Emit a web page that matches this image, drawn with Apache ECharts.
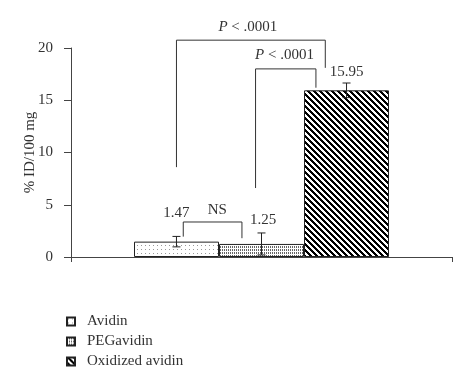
<!DOCTYPE html>
<html>
<head>
<meta charset="utf-8">
<script src="https://cdn.jsdelivr.net/npm/echarts@6/dist/echarts.min.js"></script>
<style>
  html, body { margin: 0; padding: 0; background: #fff; }
  #chart { width: 467px; height: 375px; }
</style>
</head>
<body>
<div id="chart"></div>
<script>
// data
const groups = ['Avidin', 'PEGavidin', 'Oxidized avidin']
const means = [1.47, 1.25, 15.95]
const errors = [0.5, 1.05, 0.7]
const yTicks = [0, 5, 10, 15, 20]
// bar slot positions on the hidden helper axis (one unit = one bar width)
const slots = [-1, 0, 1]
// brackets: [xLeft, xRight, yTop, yLeftEnd, yRightEnd]
const brackets = [
  [-1, 0.75, 20.75, 8.6, 18.1],
  [-0.07, 0.64, 18.0, 6.6, 16.2],
  [-0.92, -0.23, 3.35, 1.95, 1.8]
]
// annotation texts and where they sit
const noteTexts = ['1.47', '1.25', '15.95', 'NS', '{i|P} < .0001', '{i|P} < .0001']
const noteX = [-1.0, 0.02, 1.0, -0.52, -0.16, 0.27]
const noteY = [4.2, 3.55, 17.7, 4.5, 22.0, 19.3]

const FONT = 'Liberation Serif'
const INK = '#333'

// 图案填充
const makePattern = (w, h, fn) => {
  const c = document.createElement('canvas')
  c.width = w
  c.height = h
  const ctx = c.getContext('2d')
  ctx.fillStyle = '#fff'
  ctx.fillRect(0, 0, w, h)
  for (let x = 0; x < w; x++) {
    for (let y = 0; y < h; y++) {
      const col = fn(x, y)
      if (col) {
        ctx.fillStyle = col
        ctx.fillRect(x, y, 1, 1)
      }
    }
  }
  return { image: c, repeat: 'repeat' }
}
const dotted = makePattern(4, 4, (x, y) => (x === 1 && y === 1 ? '#999' : null))
const dense = makePattern(2, 3, (x, y) => (x === 0 && y < 2 ? '#666' : null))
const hatch = makePattern(6, 6, (x, y) => ((((x - y) % 6) + 6) % 6 < 3 ? '#000' : null))
const fills = [dotted, dense, hatch]

const myChart = echarts.init(document.getElementById('chart'))

const barSeries = groups.map((name, i) => ({
  name: name,
  type: 'bar',
  xAxisIndex: 0,
  yAxisIndex: 0,
  barWidth: 85,
  barGap: '0%',
  data: [means[i]],
  itemStyle: { color: fills[i], borderColor: '#222', borderWidth: 1 },
  emphasis: { disabled: true },
  z: 2
}))

const option = {
  animation: false,
  backgroundColor: '#fff',
  grid: { left: 71, right: 15, top: 48, bottom: 118 },
  legend: {
    orient: 'vertical',
    left: 66,
    top: 314,
    bottom: 0,
    padding: 0,
    itemWidth: 8,
    itemHeight: 8,
    itemGap: 5,
    icon: 'rect',
    data: groups,
    textStyle: { fontFamily: FONT, fontSize: 15, color: INK, padding: [0, 0, 0, 7] }
  },
  xAxis: [
    {
      type: 'category',
      data: [''],
      axisLine: { lineStyle: { color: '#444', width: 1 } },
      axisTick: { show: true, length: 5, lineStyle: { color: '#444' } },
      axisLabel: { show: false }
    },
    {
      type: 'value',
      min: -2.24,
      max: 2.24,
      show: false
    }
  ],
  yAxis: {
    type: 'value',
    min: 0,
    max: 20,
    interval: 5,
    name: '% ID/100 mg',
    nameLocation: 'middle',
    nameGap: 33,
    nameMoveOverlap: false,
    nameTextStyle: { fontFamily: FONT, fontSize: 15, color: INK },
    axisLine: { show: true, onZero: false, lineStyle: { color: '#444', width: 1 } },
    axisTick: { show: true, length: 7, lineStyle: { color: '#444' } },
    axisLabel: {
      margin: 18,
      fontFamily: FONT,
      fontSize: 15,
      color: INK,
      formatter: (v) => (yTicks.includes(v) ? String(v) : '')
    },
    splitLine: { show: false }
  },
  series: [
    ...barSeries,
    // 误差线
    {
      type: 'custom',
      xAxisIndex: 1,
      yAxisIndex: 0,
      silent: true,
      clip: false,
      z: 5,
      data: slots.map((s, i) => [s, means[i] - errors[i], means[i] + errors[i]]),
      renderItem: (params, api) => {
        const lo = api.coord([api.value(0), api.value(1)])
        const hi = api.coord([api.value(0), api.value(2)])
        const hw = 4
        const ls = { stroke: '#222', lineWidth: 1 }
        return {
          type: 'group',
          children: [
            { type: 'line', shape: { x1: lo[0], y1: lo[1], x2: hi[0], y2: hi[1] }, style: ls },
            { type: 'line', shape: { x1: lo[0] - hw, y1: lo[1], x2: lo[0] + hw, y2: lo[1] }, style: ls },
            { type: 'line', shape: { x1: hi[0] - hw, y1: hi[1], x2: hi[0] + hw, y2: hi[1] }, style: ls }
          ]
        }
      }
    },
    // 显著性括号
    {
      type: 'custom',
      xAxisIndex: 1,
      yAxisIndex: 0,
      silent: true,
      clip: false,
      z: 5,
      data: brackets,
      renderItem: (params, api) => {
        const a = api.coord([api.value(0), api.value(3)])
        const b = api.coord([api.value(0), api.value(2)])
        const c = api.coord([api.value(1), api.value(2)])
        const d = api.coord([api.value(1), api.value(4)])
        return {
          type: 'polyline',
          shape: { points: [a, b, c, d] },
          style: { stroke: '#333', lineWidth: 1, fill: null }
        }
      }
    },
    // 标注文字
    {
      type: 'custom',
      xAxisIndex: 1,
      yAxisIndex: 0,
      silent: true,
      clip: false,
      z: 6,
      data: noteX.map((x, i) => [x, noteY[i]]),
      renderItem: (params, api) => {
        const p = api.coord([api.value(0), api.value(1)])
        return {
          type: 'text',
          x: p[0],
          y: p[1],
          style: {
            text: noteTexts[params.dataIndex],
            fontFamily: FONT,
            fontSize: 15,
            fill: INK,
            align: 'center',
            verticalAlign: 'middle',
            rich: { i: { fontStyle: 'italic', fontFamily: FONT, fontSize: 15, fill: INK } }
          }
        }
      }
    }
  ]
}
myChart.setOption(option)
</script>
</body>
</html>
